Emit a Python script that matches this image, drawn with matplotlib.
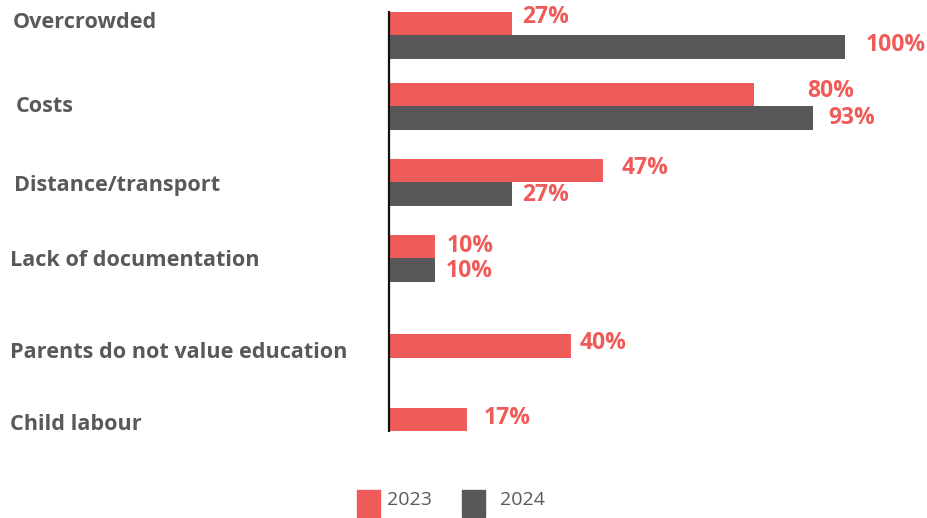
import numpy as np
import matplotlib.pyplot as plt
from matplotlib.patches import Rectangle
from matplotlib.transforms import blended_transform_factory, offset_copy

plt.rcParams['font.family'] = ['Open Sans', 'DejaVu Sans']

# 数据
categories = ['Overcrowded', 'Costs', 'Distance/transport', 'Lack of documentation',
              'Parents do not value education', 'Child labour']
series_names = ['2023', '2024']
values_2023 = [27, 80, 47, 10, 40, 17]
values_2024 = [100, 93, 27, 10, None, None]

# 版式
colors = ['#EF5B58', '#58585A']
text_gray = '#595959'
row_pos = [0.467, 1.401, 2.401, 3.401, 4.704, 5.671]   # 每组中心（行单位）
bar_h = 0.309
label_dx = [3, 6, 4, 0, 0, 0]                          # 类别标签微调（像素）
label_dy = [-0.17, 0.0, 0.04, 0.03, -0.07, -0.09]
# 数值标签偏移（像素）：dx, dy
val_off_2023 = [(10, -7), (53, -4), (18, -3), (12, -1), (8, -3), (17, -1)]
val_off_2024 = [(21, -2), (15, 0), (10, 1), (11, 1), (0, 0), (0, 0)]

W, H, DPI = 928, 518, 100
fig = plt.figure(figsize=(W / DPI, H / DPI), dpi=DPI)
ax = fig.add_axes([389 / W, 0, 456 / W, 1])
ax.set_xlim(0, 100)
ax.set_ylim(H / 76, 0)
ax.axis('off')

px = 72 / DPI  # 像素换算成点


def draw_series(vals, offs, shift, color):
	for i, v in enumerate(vals):
		if v is None:
			continue
		y = row_pos[i] + shift
		ax.barh(y, v, height=bar_h, color=color, linewidth=0)
		dx, dy = offs[i]
		tr = offset_copy(ax.transData, fig=fig, x=dx * px, y=-dy * px, units='points')
		ax.text(v, y, f'{v}%', transform=tr, ha='left', va='center',
		        fontsize=16.5, fontweight='bold', color=colors[0], clip_on=False)


draw_series(values_2023, val_off_2023, -bar_h / 2, colors[0])
draw_series(values_2024, val_off_2024, bar_h / 2, colors[1])

# 纵轴线
ax.plot([0, 0], [11 / 76, 432 / 76], color='#111111', linewidth=1.6,
        solid_capstyle='butt', clip_on=False)

# 类别标签
lbl_tr = blended_transform_factory(fig.transFigure, ax.transData)
for i, name in enumerate(categories):
	ax.text((10 + label_dx[i]) / W, row_pos[i] + label_dy[i], name, transform=lbl_tr,
	        ha='left', va='center', fontsize=15.6, fontweight='bold', color=text_gray)

# 图例
leg_x = [357, 462]
txt_x = [387, 500]
for k, name in enumerate(series_names):
	fig.patches.append(Rectangle((leg_x[k] / W, 1 / H), 23 / W, 27 / H,
	                             transform=fig.transFigure, color=colors[k]))
	fig.text(txt_x[k] / W, 1 - 500 / H, name, ha='left', va='center',
	         fontsize=14, color=text_gray)

fig.savefig('out.png', dpi=DPI)
